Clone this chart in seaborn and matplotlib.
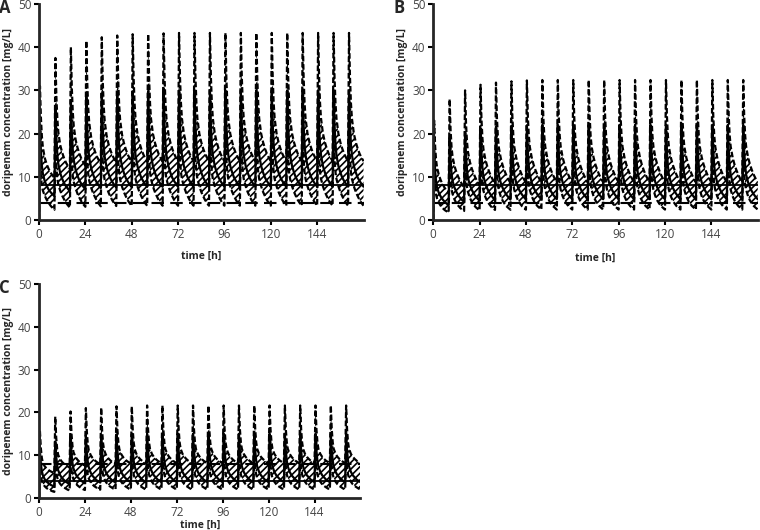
import numpy as np
import pandas as pd
import matplotlib
matplotlib.use('Agg')
import matplotlib.pyplot as plt
import seaborn as sns

sns.set_style('ticks')
plt.rcParams['font.family'] = ['Open Sans', 'DejaVu Sans']
plt.rcParams['hatch.linewidth'] = 1.2

# dosing every 8 h over one week
doses = [0, 8, 16, 24, 32, 40, 48, 56, 64, 72, 80, 88, 96, 104, 112, 120, 128, 136, 144, 152, 160]
# hours after each dose at which the profile was read
profile_hours = [0.5, 1, 1.5, 2, 3, 4, 5, 6, 7, 8]

# peak of the upper (95th pct) curve for each dose, read per panel
peaks_A = [31, 37.5, 40, 41.5, 42.3, 42.7, 43, 43.1, 43.2, 43.3, 43.3, 43.3, 43.3, 43.3, 43.3, 43.3, 43.3, 43.3, 43.3, 43.3, 43.3]
peaks_B = [23, 28, 30, 31.3, 31.8, 32.1, 32.3, 32.4, 32.4, 32.4, 32.4, 32.4, 32.4, 32.4, 32.4, 32.4, 32.4, 32.4, 32.4, 32.4, 32.4]
peaks_C = [15.5, 19, 20.2, 21, 21.1, 21.4, 21.4, 21.6, 21.6, 21.6, 21.6, 21.6, 21.6, 21.6, 21.6, 21.6, 21.6, 21.6, 21.6, 21.6, 21.6]

# steady-state profiles within one dosing interval (upper / median / lower)
upper_A = [43.3, 33, 27, 23.5, 20, 18, 16.5, 15.3, 14.4, 13.6]
median_A = [30, 22, 17.5, 15, 12.5, 11, 9.8, 9, 8.3, 7.7]
lower_A = [21, 14, 11, 9.5, 7.8, 6.5, 5.5, 4.6, 3.9, 3.3]

upper_B = [32.4, 24, 19.5, 17, 14.5, 12.8, 11.5, 10.4, 9.5, 8.7]
median_B = [22, 16, 12.5, 10.5, 8.7, 7.5, 6.6, 5.9, 5.3, 4.8]
lower_B = [15, 10.5, 8.2, 7, 5.5, 4.5, 3.8, 3.2, 2.8, 2.4]

upper_C = [21.6, 16, 13, 11.5, 10.3, 9.6, 9.1, 8.7, 8.4, 8.1]
median_C = [15, 11, 8.7, 7.4, 6.1, 5.3, 4.8, 4.3, 4.0, 3.7]
lower_C = [10, 7, 5.5, 4.7, 3.8, 3.2, 2.8, 2.5, 2.2, 2.0]

# MIC breakpoints (solid, dashed) per panel
mic_lines = {'A': (8, 4), 'B': (8, 4), 'C': (4, 8)}


def build_series(peaks, profile):
    t = [0.0]
    c = [0.0]
    for idx, d in enumerate(doses):
        f = peaks[idx] / peaks[-1]
        for h, v in zip(profile_hours, profile):
            t.append(d + h)
            c.append(v * f)
    return np.array(t), np.array(c)


def draw_panel(ax, letter, peaks, upper, median, lower, xlab_pad):
    t, up = build_series(peaks, upper)
    _, med = build_series(peaks, median)
    _, lo = build_series(peaks, lower)
    df = pd.DataFrame({'time': t, 'upper': up, 'median': med, 'lower': lo})

    ax.fill_between(df['time'], df['lower'], df['upper'], facecolor='white',
                    edgecolor='black', hatch='/////', linewidth=0)
    sns.lineplot(x='time', y='upper', data=df, ax=ax, color='black', lw=1.6,
                 estimator=None, sort=False)
    ax.lines[-1].set_dashes([2.5, 1.2])
    sns.lineplot(x='time', y='lower', data=df, ax=ax, color='black', lw=1.6,
                 estimator=None, sort=False)
    ax.lines[-1].set_dashes([2.5, 1.2])
    sns.lineplot(x='time', y='median', data=df, ax=ax, color='black', lw=1.6,
                 estimator=None, sort=False)

    solid, dashed = mic_lines[letter]
    ax.axhline(solid, color='black', lw=1.3)
    ax.axhline(dashed, color='black', lw=1.5, dashes=(6, 3))

    ax.set_xlim(0, 168)
    ax.set_ylim(0, 50)
    ax.set_xticks([0, 24, 48, 72, 96, 120, 144])
    ax.set_yticks([0, 10, 20, 30, 40, 50])
    ax.tick_params(axis='both', labelsize=8.5, labelcolor='#444444', width=1.5,
                   length=3.5, color='black', pad=2)
    for s in ['left', 'bottom']:
        ax.spines[s].set_linewidth(2)
    sns.despine(ax=ax)
    ax.set_xlabel('time [h]', fontsize=7.5, fontweight='bold', labelpad=xlab_pad)
    ax.set_ylabel('doripenem concentration [mg/L]', fontsize=7.5, fontweight='bold', labelpad=3)
    # panel letter placed in figure coords, just right of the y label
    x0 = ax.get_position().x0
    y1 = ax.get_position().y1
    fig.text(x0 - 0.045, y1 - 0.007, letter, fontsize=12, fontweight='bold',
             ha='center', va='center')


fig = plt.figure(figsize=(7.6, 5.3), dpi=100)
ax_a = fig.add_axes([0.0513, 0.585, 0.427, 0.4075])
ax_b = fig.add_axes([0.570, 0.585, 0.427, 0.4075])
ax_c = fig.add_axes([0.0513, 0.0604, 0.423, 0.404])

draw_panel(ax_a, 'A', peaks_A, upper_A, median_A, lower_A, 7)
draw_panel(ax_b, 'B', peaks_B, upper_B, median_B, lower_B, 9)
draw_panel(ax_c, 'C', peaks_C, upper_C, median_C, lower_C, 1)

fig.savefig('out.png', dpi=100)
